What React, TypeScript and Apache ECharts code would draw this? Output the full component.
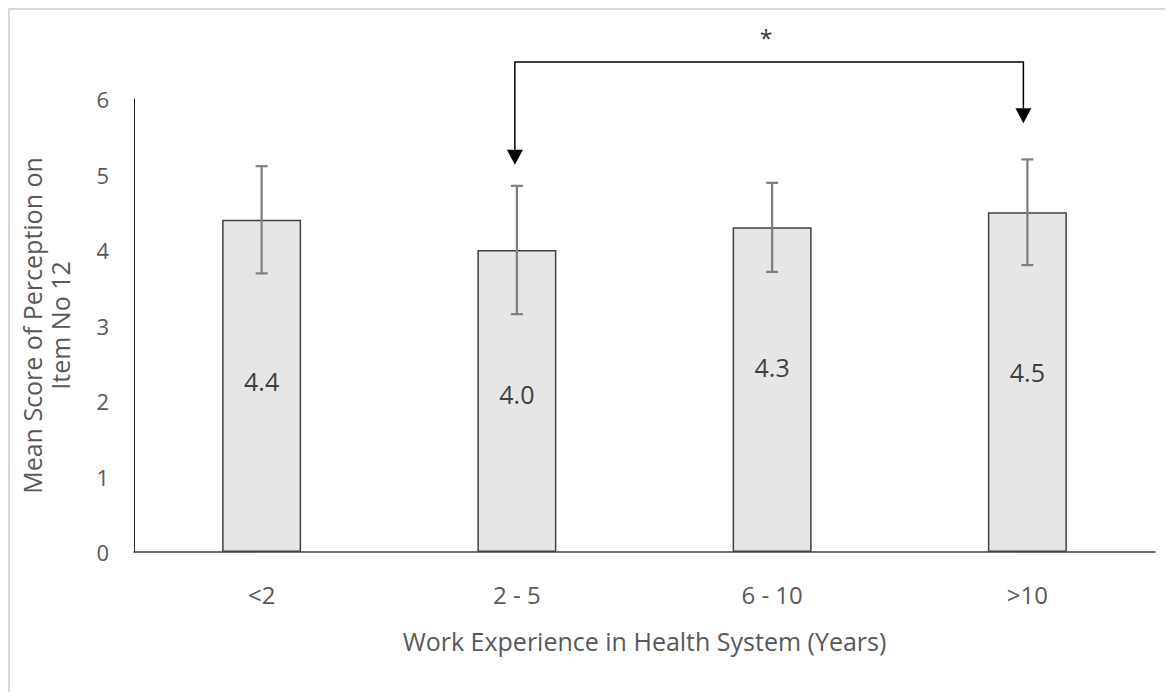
import React, { useEffect, useRef } from "react";
import * as echarts from "echarts";

const categories = ["<2", "2 - 5", "6 - 10", ">10"];
const means = [4.4, 4.0, 4.3, 4.5];
const errors = [0.71, 0.85, 0.59, 0.7];
const yMin = 0;
const yMax = 6;
const yInterval = 1;

// significance bracket between "2 - 5" and ">10"
const bracketFrom = 1;
const bracketTo = 3;
const bracketLevel = 6.49;
const bracketTipFrom = 5.13;
const bracketTipTo = 5.68;
const bracketLabel = "*";

const xTitle = "Work Experience in Health System (Years)";
const yTitle = "Mean Score of Perception on\nItem No 12";

const FONT = "'Open Sans', Lato, sans-serif";
const TEXT = "#595959";

export default function App() {
  const ref = useRef<HTMLDivElement>(null);

  useEffect(() => {
    if (!ref.current) return;
    const chart = echarts.init(ref.current, null, { renderer: "svg" });
    const labelDy = [-5, -7, -23, -10];

    const option: any = {
      animation: false,
      textStyle: { fontFamily: FONT },
      grid: { left: 120, top: 89, width: 1025, height: 453 },
      xAxis: {
        type: "category",
        data: categories,
        axisLine: { lineStyle: { color: "#404040", width: 1.5 } },
        axisTick: { show: false },
        axisLabel: { color: TEXT, fontSize: 24, margin: 30, fontFamily: FONT },
        name: xTitle,
        nameLocation: "middle",
        nameGap: 76,
        nameTextStyle: { color: TEXT, fontSize: 25, fontFamily: FONT },
      },
      yAxis: {
        type: "value",
        min: yMin,
        max: yMax,
        interval: yInterval,
        axisLine: { show: true, lineStyle: { color: "#262626", width: 1 } },
        axisTick: { show: false },
        splitLine: { show: false },
        axisLabel: { color: TEXT, fontSize: 22, margin: 25, fontFamily: FONT },
        name: yTitle,
        nameLocation: "middle",
        nameRotate: 90,
        nameGap: 60,
        nameTextStyle: { color: TEXT, fontSize: 25, lineHeight: 28, fontFamily: FONT, align: "center" },
      },
      series: [
        {
          type: "bar",
          barWidth: 79,
          data: means.map((v, i) => ({ value: v, label: { offset: [0, labelDy[i]] } })),
          itemStyle: { color: "#e6e6e6", borderColor: "#404040", borderWidth: 1.5 },
          label: {
            show: true,
            position: "inside",
            color: "#404040",
            fontSize: 25,
            fontFamily: FONT,
            formatter: (p: any) => Number(p.value).toFixed(1),
          },
          z: 2,
        },
        {
          type: "custom",
          data: categories.map((_, i) => [i, means[i], errors[i]]),
          encode: { x: 0, y: 1 },
          z: 3,
          renderItem: (params: any, api: any) => {
            const x = api.value(0);
            const m = api.value(1);
            const e = api.value(2);
            const top = api.coord([x, m + e]);
            const bot = api.coord([x, m - e]);
            const half = 6;
            const st = { stroke: "#7f7f7f", lineWidth: 2.2 };
            return {
              type: "group",
              children: [
                { type: "line", shape: { x1: top[0], y1: top[1], x2: bot[0], y2: bot[1] }, style: st },
                { type: "line", shape: { x1: top[0] - half, y1: top[1], x2: top[0] + half, y2: top[1] }, style: st },
                { type: "line", shape: { x1: bot[0] - half, y1: bot[1], x2: bot[0] + half, y2: bot[1] }, style: st },
              ],
            };
          },
        },
        {
          type: "custom",
          clip: false,
          data: [[bracketFrom, bracketTo, bracketLevel, bracketTipFrom, bracketTipTo]],
          encode: { x: 0, y: 2 },
          z: 4,
          renderItem: (params: any, api: any) => {
            const a = api.coord([api.value(0), api.value(2)]);
            const b = api.coord([api.value(1), api.value(2)]);
            const ta = api.coord([api.value(0), api.value(3)]);
            const tb = api.coord([api.value(1), api.value(4)]);
            const ah = 15;
            const aw = 8;
            const dx = -2;
            const st = { stroke: "#000", lineWidth: 1.5, fill: "none" };
            return {
              type: "group",
              children: [
                {
                  type: "polyline",
                  shape: {
                    points: [
                      [ta[0] + dx, ta[1] - ah],
                      [a[0] + dx, a[1]],
                      [b[0] + dx * 2, b[1]],
                      [tb[0] + dx * 2, tb[1] - ah],
                    ],
                  },
                  style: st,
                },
                {
                  type: "polygon",
                  shape: { points: [[ta[0] + dx - aw, ta[1] - ah], [ta[0] + dx + aw, ta[1] - ah], [ta[0] + dx, ta[1]]] },
                  style: { fill: "#000" },
                },
                {
                  type: "polygon",
                  shape: {
                    points: [[tb[0] + dx * 2 - aw, tb[1] - ah], [tb[0] + dx * 2 + aw, tb[1] - ah], [tb[0] + dx * 2, tb[1]]],
                  },
                  style: { fill: "#000" },
                },
                {
                  type: "text",
                  style: {
                    text: bracketLabel,
                    x: (a[0] + b[0]) / 2 - 6,
                    y: a[1] - 24,
                    align: "center",
                    verticalAlign: "middle",
                    fontSize: 23,
                    fontFamily: FONT,
                    fill: "#333333",
                  },
                },
              ],
            };
          },
        },
      ],
    };
    chart.setOption(option);
    return () => chart.dispose();
  }, []);

  return (
    <div
      style={{
        width: 1157,
        height: 684,
        borderLeft: "2px solid #d9d9d9",
        borderTop: "2px solid #d9d9d9",
        boxSizing: "border-box",
        background: "#fff",
      }}
    >
      <div ref={ref} style={{ width: 1155, height: 682 }} />
    </div>
  );
}
